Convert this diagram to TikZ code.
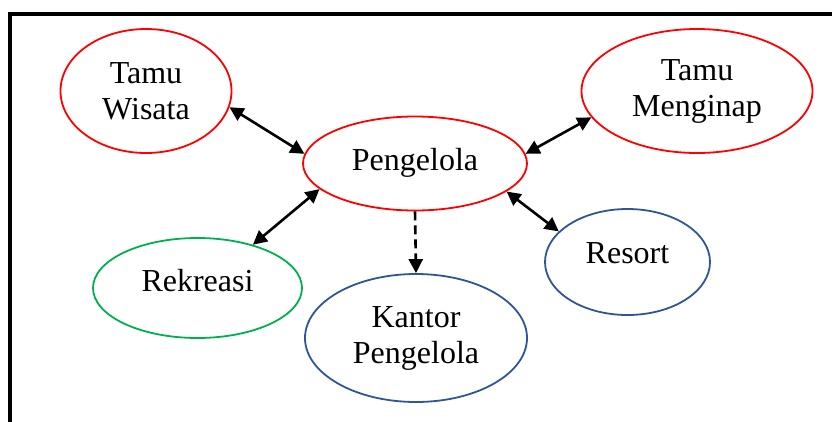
\documentclass[tikz,border=0pt]{standalone}
\usepackage{fontspec}
\setmainfont{Liberation Serif}
\usetikzlibrary{%
    arrows.meta,
    shapes.geometric
}
\definecolor{ovalred}{RGB}{255,0,0}
\definecolor{ovalgreen}{RGB}{0,176,80}
\definecolor{ovalblue}{RGB}{47,85,151}
\tikzset{oval/.style = {ellipse, draw, line width=1.8pt, inner sep=0pt,
                        align=center, font=\fontsize{32}{36}\selectfont}}
\tikzset{bothhead/.style = {{Triangle[length=14pt,width=14pt]}-{Triangle[length=14pt,width=14pt]}, line width=2.6pt}}
\tikzset{dashhead/.style = {-{Triangle[length=14pt,width=14pt]}, line width=2.6pt, dash pattern=on 9pt off 5pt}}

\begin{document}
\begin{tikzpicture}[x=1pt, y=-1pt]
    \useasboundingbox (0,0) rectangle (832,421);
    \draw[line width=4pt] (9.5,430) -- (9.5,13.5) -- (840,13.5);

    \node[oval, ovalred, text=black, minimum width=171pt, minimum height=124pt]
        (tamu-w) at (146,91) {Tamu\\Wisata};
    \node[oval, ovalred, text=black, minimum width=231pt, minimum height=124pt]
        (tamu-m) at (697,91) {Tamu\\Menginap};
    \node[oval, ovalred, text=black, minimum width=224pt, minimum height=94pt, text depth=9pt]
        (pengelola) at (415,163.5) {Pengelola};
    \node[oval, ovalgreen, text=black, minimum width=209pt, minimum height=100pt, text depth=16pt]
        (rekreasi) at (197.5,288) {Rekreasi};
    \node[oval, ovalblue, text=black, minimum width=222pt, minimum height=128pt]
        (kantor) at (416,338) {Kantor\\Pengelola};
    \node[oval, ovalblue, text=black, minimum width=165pt, minimum height=106pt, text depth=17pt]
        (resort) at (627.5,262) {Resort};

    \draw[bothhead] (tamu-w.-11) -- (pengelola.175);
    \draw[bothhead] (pengelola.5.5) -- (tamu-m.-166);
    \draw[bothhead] (pengelola.-165.5) -- (rekreasi.38);
    \draw[bothhead] (pengelola.-17.6) -- (resort.156.7);
    \draw[dashhead] (pengelola.south) -- (kantor.north);
\end{tikzpicture}
\end{document}
